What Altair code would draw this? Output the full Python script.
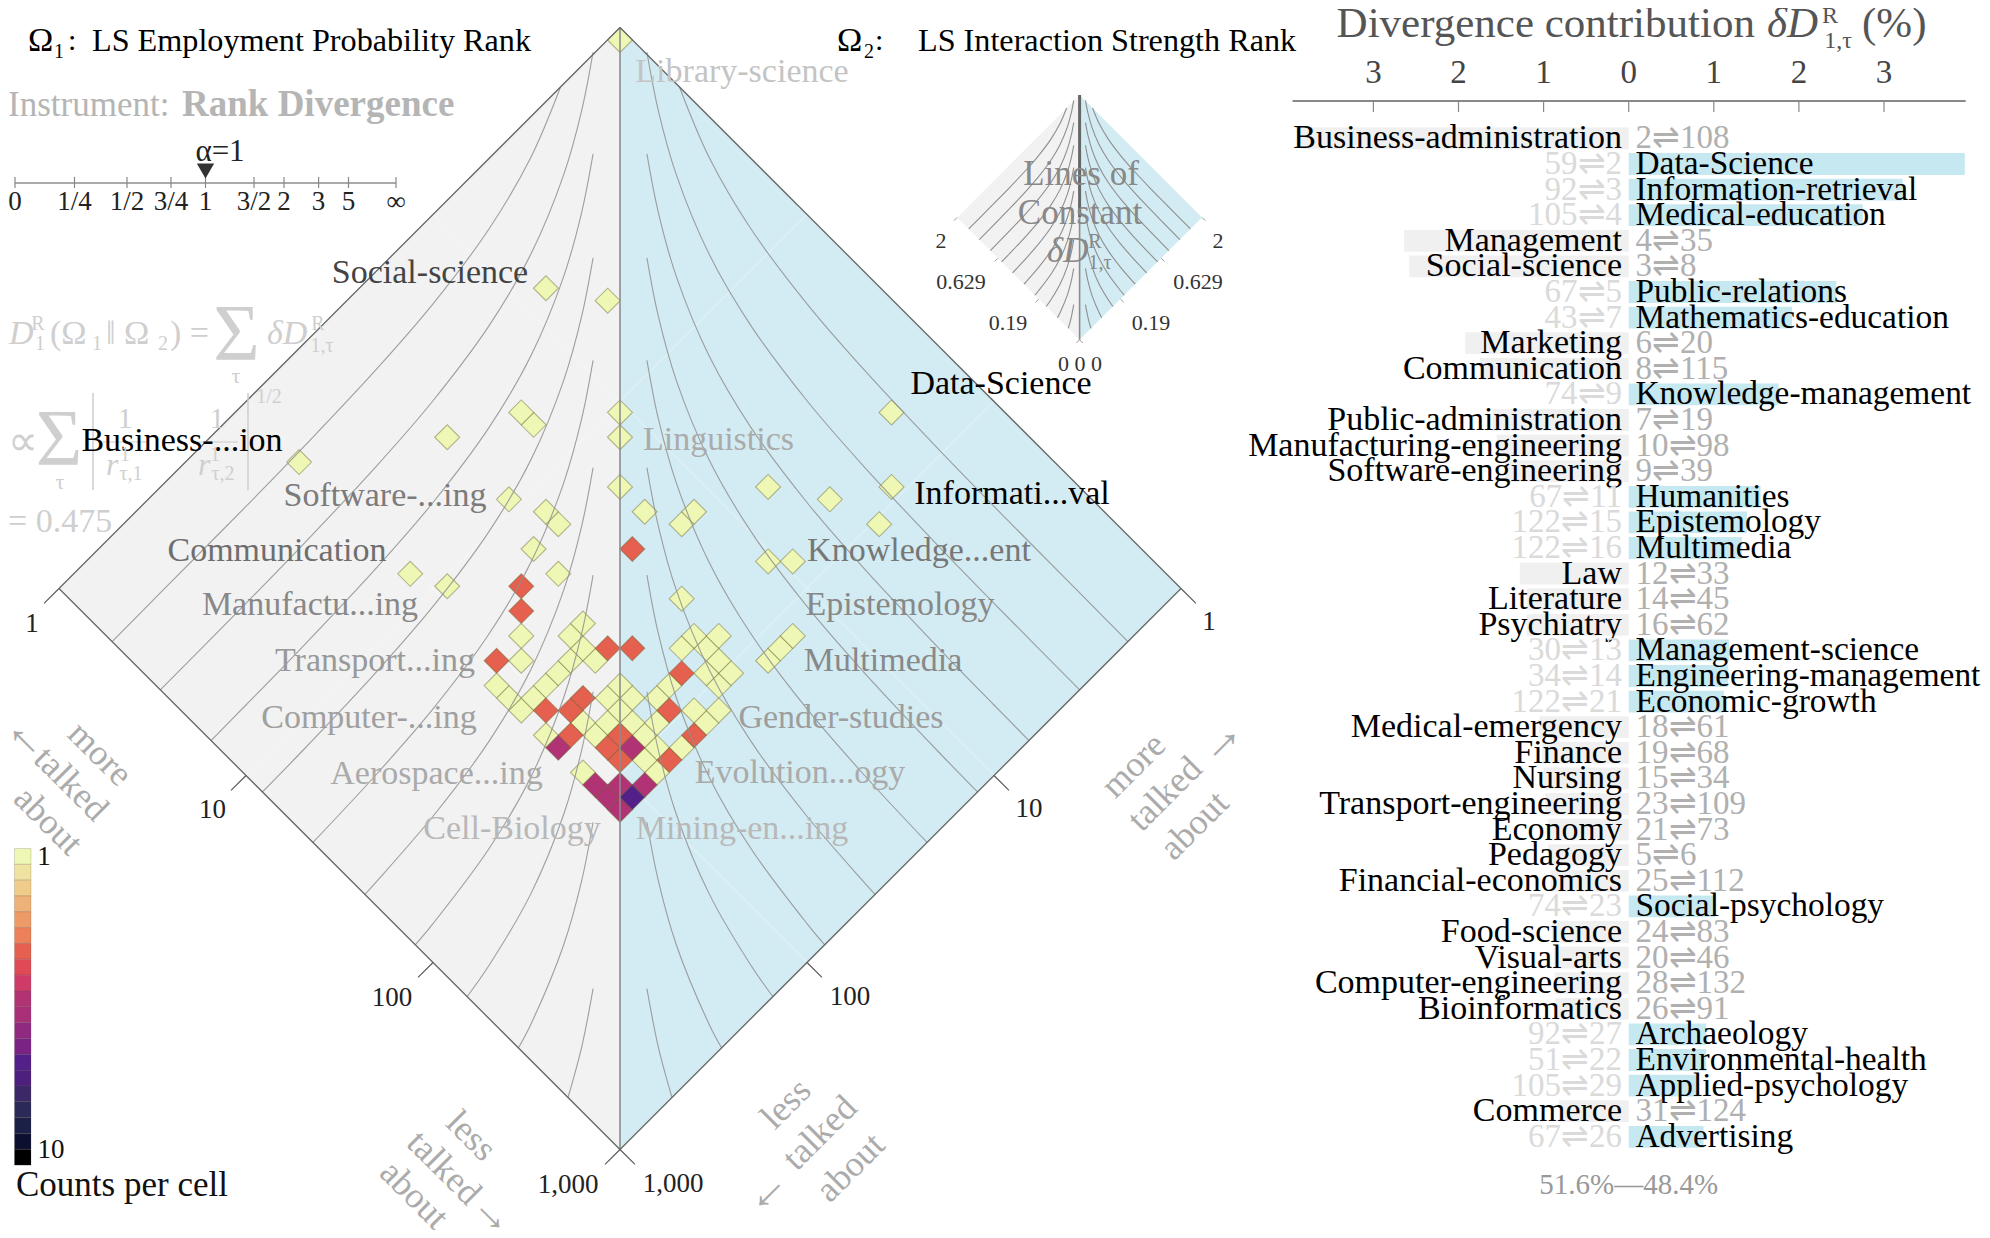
import altair as alt
import pandas as pd
import math

W, H = 1974, 1222
SERIF = "Liberation Serif"

# ---------------- values ----------------
topics = ["Business-administration","Data-Science","Information-retrieval","Medical-education","Management",
 "Social-science","Public-relations","Mathematics-education","Marketing","Communication","Knowledge-management",
 "Public-administration","Manufacturing-engineering","Software-engineering","Humanities","Epistemology","Multimedia",
 "Law","Literature","Psychiatry","Management-science","Engineering-management","Economic-growth","Medical-emergency",
 "Finance","Nursing","Transport-engineering","Economy","Pedagogy","Financial-economics","Social-psychology",
 "Food-science","Visual-arts","Computer-engineering","Bioinformatics","Archaeology","Environmental-health",
 "Applied-psychology","Commerce","Advertising"]
contrib = [-3.85,3.95,3.22,2.75,-2.64,-2.58,2.44,1.92,-1.92,-1.75,1.76,-1.6,-1.55,-1.45,1.55,1.39,1.33,-1.28,-1.2,-1.2,
 1.18,1.17,1.12,-1.05,-1.02,-1.0,-0.98,-0.95,-0.95,-0.92,1.01,-0.9,-0.88,-0.87,-0.86,0.91,0.91,0.83,-0.82,0.88]
rank1 = [2,59,92,105,4,3,67,43,6,8,74,7,10,9,67,122,122,12,14,16,30,34,122,18,19,15,23,21,5,25,74,24,20,28,26,92,51,105,31,67]
rank2 = [108,2,3,4,35,8,5,7,20,115,9,19,98,39,11,15,16,33,45,62,13,14,21,61,68,34,109,73,6,112,23,83,46,132,91,27,22,29,124,26]

# heat-map cells as (column offset from the centre line, row counted up from the lowest cell), per count
cells_one = [(-3,3),(3,3),(2,4),(3,5),(5,5),(-6,6),(-2,6),(2,6),(-3,7),(-1,7),(1,7),(3,7),(7,7),
 (-8,8),(0,8),(6,8),(8,8),(-9,9),(-7,9),(-1,9),(1,9),(3,9),(-10,10),(-6,10),(0,10),(4,10),(8,10),
 (-5,11),(7,11),(9,11),(-8,12),(-4,12),(-2,12),(8,12),(12,12),(-3,13),(5,13),(7,13),(13,13),
 (-8,14),(-4,14),(6,14),(8,14),(14,14),(-3,15),(5,17),(-14,18),(-5,19),(-17,19),(12,20),(14,20),(-7,21),
 (-5,23),(5,23),(21,23),(-6,24),(2,24),(6,24),(-9,25),(17,25),(0,26),(12,26),(22,26),(-26,28),(-14,30),(0,30),
 (-7,31),(-8,32),(0,32),(22,32),(-1,41),(-6,42),(0,62)]
cells_two = [(0,4),(4,4),(-1,5),(-4,6),(0,6),(6,6),(-6,8),(-4,8),(4,8),(-3,9),(5,11),(-10,12),(-1,13),(1,13),
 (-8,16),(-8,18),(1,21)]
cells_three = [(0,0),(-1,1),(-2,2),(0,2),(2,2),(-5,5),(1,5)]
cells_five = [(1,1)]

# contours of constant divergence, left half: distance from the centre line and depth, both in decades of rank
contours = [
 ([.318,.477,.699,1,1.301,1.699,2,2.477,2.716],[.318,.695,1.075,1.478,1.826,2.251,2.561,3.042,3.284]),
 ([.144,.204,.301,.477,.699,1,1.301,1.699,2,2.458],[.132,.44,.787,1.213,1.593,1.996,2.344,2.769,3.079,3.542]),
 ([.144,.204,.301,.477,.699,1,1.301,1.699,2,2.187],[.676,.984,1.331,1.757,2.137,2.54,2.888,3.313,3.623,3.813]),
 ([.144,.204,.301,.477,.699,1,1.301,1.699,1.912],[1.232,1.54,1.887,2.313,2.693,3.096,3.444,3.869,4.088]),
 ([.144,.204,.301,.477,.699,1,1.301,1.642],[1.78,2.088,2.435,2.861,3.241,3.644,3.992,4.358]),
 ([.144,.204,.301,.477,.699,1,1.301,1.364],[2.354,2.662,3.009,3.435,3.815,4.218,4.566,4.636]),
 ([.144,.204,.301,.477,.699,1,1.095],[2.928,3.236,3.583,4.009,4.389,4.792,4.906]),
 ([.144,.204,.301,.477,.699,.818],[3.552,3.86,4.207,4.633,5.013,5.183]),
 ([.144,.204,.301,.477,.543],[4.25,4.558,4.905,5.331,5.456]),
 ([.144,.204,.278],[5.14,5.448,5.722]),
]

rank_ticks = [1,10,100,1000]
bar_ticks = [-3,-2,-1,0,1,2,3]
alpha_labels = ["0","1/4","1/2","3/4","1","3/2","2","3","5","∞"]
heat_colors = ["#eef7b4","#f0e2a0","#efcc8a","#eeb278","#ee9a66","#ec8058","#e5604f","#e04a57","#cf3b68","#b23276",
 "#a82f78","#902a80","#7a2385","#53208a","#4d2080","#3a2868","#2a2a58","#1b2048","#0c1030","#000000"]
bin_of_count = {1:0, 2:6, 3:9, 5:13}

# ---------------- layout ----------------
CX, TOPY, PPD = 620.0, 27.5, 187.0      # centre line, apex, pixels per decade
INX, INY, INP = 1079.6, 95.0, 40.8      # inset
STEP_X, STEP_Y, ROW0 = 0.0660, 0.0664, 63
ROW_Y0, ROW_STEP = 138.4, 25.6
BAR0, BAR_PPU = 1628.7, 85.1

def xs(cx, ppd): return alt.Scale(domain=[(8-cx)/ppd, (8+W-cx)/ppd], range=[0, W], nice=False, zero=False)
def ys(ty, ppd): return alt.Scale(domain=[(8-ty)/ppd, (8+H-ty)/ppd], range=[0, H], nice=False, zero=False)
MX, MY = xs(CX, PPD), ys(TOPY, PPD)
IX, IY = xs(INX, INP), ys(INY, INP)
BX, BY = xs(BAR0, BAR_PPU), ys(ROW_Y0, ROW_STEP)
NA = dict(axis=None)

def text_layer(rows, align="center", style="normal", weight="normal", family=SERIF):
    df = pd.DataFrame(rows, columns=["t", "px", "py", "s", "c", "a"])
    df["px"] -= 8; df["py"] -= 8
    return alt.Chart(df).mark_text(align=align, baseline="middle", fontStyle=style, fontWeight=weight, font=family).encode(
        x=alt.X("px:Q", scale=None, **NA), y=alt.Y("py:Q", scale=None, **NA), text="t:N",
        size=alt.Size("s:Q", scale=None), color=alt.Color("c:N", scale=None), angle=alt.Angle("a:Q", scale=None))

def rules(df, sx, sy, color, width, opacity=1.0):
    return alt.Chart(df).mark_rule(color=color, strokeWidth=width, opacity=opacity).encode(
        x=alt.X("x:Q", scale=sx, **NA), x2="x2:Q", y=alt.Y("y:Q", scale=sy, **NA), y2="y2:Q")

# ---------------- tables ----------------
halves = pd.DataFrame({"h":["l","l","r","r"], "x":[-3,0,0,3], "y":[3,0,0,3], "y2":[3,6,6,3]})
def half_layer(side, color, sx, sy, opacity=1.0):
    return alt.Chart(halves[halves.h == side]).mark_area(color=color, opacity=opacity).encode(
        x=alt.X("x:Q", scale=sx, **NA), y=alt.Y("y:Q", scale=sy, **NA), y2="y2:Q")

edges = pd.DataFrame({"x":[-3,3,-3,3],"y":[3,3,3,3],"x2":[0,0,0,0],"y2":[0,0,6,6]})
center = pd.DataFrame({"x":[0],"x2":[0],"y":[0],"y2":[6]})
lt = [math.log10(t) for t in rank_ticks]
ticksL = pd.DataFrame({"x":[v-3 for v in lt],"y":[v+3 for v in lt],"x2":[v-3-.08 for v in lt],"y2":[v+3+.08 for v in lt]})
ticksR = ticksL.assign(x=-ticksL.x, x2=-ticksL.x2)
grid_rows = []
for v in lt[1:3]:
    grid_rows += [(v-3, v+3, v, v), (3-v, v+3, -v, v)]
grid = pd.DataFrame(grid_rows, columns=["x","y","x2","y2"])

line_rows = []
for n, (cx_, cy_) in enumerate(contours):
    for i, (a, b) in enumerate(zip(cx_, cy_)):
        line_rows.append((f"L{n}", i, -a, b))
        line_rows.append((f"R{n}", i, a, b))
lines = pd.DataFrame(line_rows, columns=["id","i","x","y"])
def contour_layer(sx, sy, color, width, opacity=1.0):
    return alt.Chart(lines).mark_line(color=color, strokeWidth=width, interpolate="catmull-rom", opacity=opacity).encode(
        x=alt.X("x:Q", scale=sx, **NA), y=alt.Y("y:Q", scale=sy, **NA), detail="id:N", order="i:Q")

cell_rows = []
for count, group in [(1,cells_one),(2,cells_two),(3,cells_three),(5,cells_five)]:
    for c, r in group:
        cell_rows.append((c*STEP_X, (ROW0-r)*STEP_Y, heat_colors[bin_of_count[count]]))
cells = pd.DataFrame(cell_rows, columns=["x","y","fill"])
cell_layer = alt.Chart(cells).mark_point(shape="diamond", filled=True, size=625, opacity=1, stroke="#6b6330",
        strokeOpacity=0.45, strokeWidth=1.1).encode(
    x=alt.X("x:Q", scale=MX, **NA), y=alt.Y("y:Q", scale=MY, **NA), fill=alt.Fill("fill:N", scale=None))

bars = pd.DataFrame({"r":range(len(topics)), "topic":topics, "v":contrib,
                     "rk":[f"{a}⇌{b}" for a,b in zip(rank1,rank2)]})
bars["r0"] = bars.r-.425; bars["r1"] = bars.r+.425; bars["z"] = 0
bars["fill"] = ["#c6e9f1" if v>0 else "#f0f0f0" for v in contrib]
bar_layer = alt.Chart(bars).mark_rect().encode(
    x=alt.X("z:Q", scale=BX, **NA), x2="v:Q", y=alt.Y("r0:Q", scale=BY, **NA), y2="r1:Q",
    fill=alt.Fill("fill:N", scale=None))
def bar_text(df, field, align, dx, color, size=34):
    return alt.Chart(df).mark_text(align=align, baseline="middle", dx=dx, font=SERIF, fontSize=size, color=color).encode(
        x=alt.X("z:Q", scale=BX, **NA), y=alt.Y("r:Q", scale=BY, **NA), text=f"{field}:N")
pos, neg = bars[bars.v>0], bars[bars.v<0]

bar_axis = pd.DataFrame({"x":[-3.95],"x2":[3.96],"y":[-1.46],"y2":[-1.46]})
bar_tick_df = pd.DataFrame({"x":bar_ticks,"x2":bar_ticks,"y":[-1.46]*7,"y2":[-1.03]*7,"lab":[str(abs(t)) for t in bar_ticks],"ly":[-2.55]*7})
bar_tick_text = alt.Chart(bar_tick_df).mark_text(font=SERIF, fontSize=33, color="#444", baseline="middle").encode(
    x=alt.X("x:Q", scale=BX, **NA), y=alt.Y("ly:Q", scale=BY, **NA), text="lab:N")

cbar = pd.DataFrame({"i":range(20),"i1":range(1,21),"fill":heat_colors})
CBY = alt.Scale(domain=[(8-848.5)/15.83,(8+H-848.5)/15.83], range=[0,H], nice=False, zero=False)
cbar_layer = alt.Chart(cbar).mark_rect(stroke="#55463a", strokeOpacity=0.25, strokeWidth=0.8).encode(
    x=alt.value(6.5), x2=alt.value(23), y=alt.Y("i:Q", scale=CBY, **NA), y2="i1:Q", fill=alt.Fill("fill:N", scale=None))

# alpha scale
alpha_px = [15,74.5,127,171,205.5,254,284,318.6,348.5,396]
a_df = pd.DataFrame({"px":[p-8 for p in alpha_px]})
alpha_line = alt.Chart(pd.DataFrame({"a":[15-8],"b":[396-8],"y":[183-8]})).mark_rule(color="#aaa", strokeWidth=2).encode(
    x=alt.X("a:Q", scale=None, **NA), x2="b:Q", y=alt.Y("y:Q", scale=None, **NA))
alpha_ticks = alt.Chart(a_df.assign(y=177-8, y2=188-8)).mark_rule(color="#888", strokeWidth=1.2).encode(
    x=alt.X("px:Q", scale=None, **NA), y=alt.Y("y:Q", scale=None, **NA), y2="y2:Q")
alpha_mark = alt.Chart(pd.DataFrame({"px":[205.5-8],"y":[171-8]})).mark_point(shape="triangle-down", filled=True, size=300, color="#333", opacity=1).encode(
    x=alt.X("px:Q", scale=None, **NA), y=alt.Y("y:Q", scale=None, **NA))
alpha_text = [(l,p,202,27,"#222",0) for l,p in zip(alpha_labels,alpha_px)]

bars_f = alt.Chart(pd.DataFrame({"px":[93-8,248-8],"y":[393-8]*2,"y2":[490-8]*2})).mark_rule(color="#ccc", strokeWidth=1.5).encode(
    x=alt.X("px:Q", scale=None, **NA), y=alt.Y("y:Q", scale=None, **NA), y2="y2:Q")
frac_f = alt.Chart(pd.DataFrame({"a":[103-8,195-8],"b":[146-8,238-8],"y":[442-8]*2})).mark_rule(color="#ccc", strokeWidth=1.2).encode(
    x=alt.X("a:Q", scale=None, **NA), x2="b:Q", y=alt.Y("y:Q", scale=None, **NA))

# ---------------- text ----------------
F = "#cfcfcf"; G = "#ababab"
normal_c = [
 ("Social-science",430,273,34,"#444",0),("Business-...ion",182,441,34,"#000",0),
 ("Software-...ing",385,496,34,"#7b7b7b",0),("Communication",277,551,34,"#6e6e6e",0),
 ("Manufactu...ing",310,605,34,"#888",0),("Transport...ing",375,661,34,"#999",0),
 ("Computer-...ing",369,718,34,"#a0a0a0",0),("Aerospace...ing",436.5,774,34,"#aaa",0),
 ("Cell-Biology",512,829,34,"#b8b8b8",0),
 ("Library-science",742,72,34,"#c4c4c4",0),("Data-Science",1001,384,34,"#000",0),("Informati...val",1012,494,34,"#000",0),
 ("Linguistics",718.5,440,34,"#ababab",0),("Knowledge...ent",919,551,34,"#777",0),("Epistemology",900,605,34,"#888",0),
 ("Multimedia",883,661,34,"#888",0),("Gender-studies",841,718,34,"#9d9d9d",0),("Evolution...ogy",800,773,34,"#aaa",0),
 ("Mining-en...ing",742,829,34,"#b8b8b8",0),
 ("1",32,624,27,"#222",0),("10",212.5,810,27,"#222",0),("100",392,998,27,"#222",0),("1,000",568,1185,27,"#222",0),
 ("1",1209,622,27,"#222",0),("10",1029,809,27,"#222",0),("100",850,997,27,"#222",0),("1,000",673,1184,27,"#222",0),
 ("more",100,754,36,G,45),("talked",71,784,36,G,45),("about",48,821,36,G,45),("←",28,737,48,G,45),
 ("less",471,1136,36,G,45),("talked",444,1168,36,G,45),("about",414,1195,36,G,45),("→",494,1214,44,G,45),
 ("more",1133.5,765.5,36,G,315),("talked",1165,794,36,G,315),("about",1194.5,825.6,36,G,315),("→",1220,740.6,48,G,315),
 ("less",786,1104,36,G,315),("talked",820,1133,36,G,315),("about",850.6,1167.6,36,G,315),("←",765,1191,48,G,315),
 ("α=1",220,152,31,"#222",0),
 ("1",44,857,27,"#111",0),("10",51,1150,27,"#111",0),
 ("Lines of",1081,174,35,"#888",0),("Constant",1080,213,35,"#888",0),
 ("R",1095,242,20,"#888",0),("1,τ",1100,263,20,"#888",0),
 ("2",941,241,22,"#333",0),("0.629",961,282,22,"#333",0),("0.19",1008,323,22,"#333",0),("0 0 0",1080,364,22,"#333",0),
 ("2",1218,241,22,"#333",0),("0.629",1198,282,22,"#333",0),("0.19",1151,323,22,"#333",0),
 ("51.6%—48.4%",1628.7,1185,29,"#999",0),
 ("R",1830,16,24,"#555",0),("1,τ",1838,41,24,"#555",0),
 ("Σ",236.5,336,80,F,0),("τ",236,376,22,F,0),("Σ",59,441,80,F,0),("τ",60,482,22,F,0),
 ("R",38,324,20,F,0),("1",40,344,20,F,0),("R",318,324,20,F,0),("1,τ",322,346,20,F,0),
 ("∝",23,442,42,F,0),("1",125,419,30,F,0),("1",217,419,30,F,0),
 ("1",125,455,20,F,0),("τ,1",131,474,20,F,0),("1",215,455,20,F,0),("τ,2",223,474,20,F,0),("1/2",269,397,20,F,0),
]
left_n = [
 ("Ω",28,41,34,"#000",0),("1",54,52,20,"#000",0),(":",68,41,30,"#000",0),
 ("LS Employment Probability Rank",92,41,32.2,"#000",0),
 ("Ω",837,41,34,"#000",0),("2",864,52,20,"#000",0),(":",875,41,30,"#000",0),
 ("LS Interaction Strength Rank",918,41,32.2,"#000",0),
 ("Instrument:",8,105,35,"#b5b5b5",0),
 ("Counts per cell",16,1185,35,"#111",0),
 ("Divergence contribution",1336.6,24,43,"#555",0),
 ("(%)",1862,24,43,"#555",0),
 ("(Ω",50,334,34,F,0),("1",92,344,20,F,0),("‖ Ω",106,334,34,F,0),("2",158,344,20,F,0),(") =",170,334,34,F,0),
 ("= 0.475",8,522,34,F,0),
]
left_b = [("Rank Divergence",182,105,37,"#b5b5b5",0)]
left_i = [("δD",1047,251,35,"#888",0),
          ("δD",1767,24,43,"#555",0),
          ("D",9,334,34,F,0),("δD",267,334,34,F,0),("r",106,465,32,F,0),("r",198,465,32,F,0)]

# ---------------- assembly ----------------
layers = [
    half_layer("l","#f2f2f2",MX,MY), half_layer("r","#d3ecf3",MX,MY),
    rules(grid,MX,MY,"#ffffff",1,0.45),
    cell_layer,
    contour_layer(MX,MY,"#8f8f8f",1.1,0.85),
    rules(center,MX,MY,"#8c8c8c",1.6),
    rules(edges,MX,MY,"#666666",1.3),
    rules(ticksL,MX,MY,"#555555",1.1), rules(ticksR,MX,MY,"#555555",1.1),
    half_layer("l","#f2f2f2",IX,IY), half_layer("r","#d3ecf3",IX,IY),
    contour_layer(IX,IY,"#8f8f8f",1.1),
    rules(pd.DataFrame({"x":[0],"x2":[0],"y":[0],"y2":[3]}),IX,IY,"#666666",3),
    rules(pd.DataFrame({"x":[0],"x2":[0],"y":[3],"y2":[6]}),IX,IY,"#8c8c8c",1.6),
    rules(ticksL,IX,IY,"#999999",1), rules(ticksR,IX,IY,"#999999",1),
    bar_layer,
    bar_text(neg,"topic","right",-6.7,"#000"), bar_text(pos,"topic","left",6.8,"#000",33.4),
    bar_text(neg,"rk","left",6.8,"#b0b0b0",33), bar_text(pos,"rk","right",-6.7,"#dadada",33),
    rules(bar_axis,BX,BY,"#888888",2), rules(bar_tick_df,BX,BY,"#888888",1.2), bar_tick_text,
    cbar_layer, alpha_line, alpha_ticks, alpha_mark, bars_f, frac_f,
    text_layer(alpha_text),
    text_layer(normal_c), text_layer(left_n, align="left"),
    text_layer(left_b, align="left", weight="bold"), text_layer(left_i, align="left", style="italic"),
]
chart = alt.layer(*layers).resolve_scale(x="independent", y="independent").properties(
    width=W, height=H, padding=0, autosize=alt.AutoSizeParams(type="none", contains="padding")).configure_view(stroke=None)
chart.save("out.html", embed_options={"renderer": "svg", "actions": False})
